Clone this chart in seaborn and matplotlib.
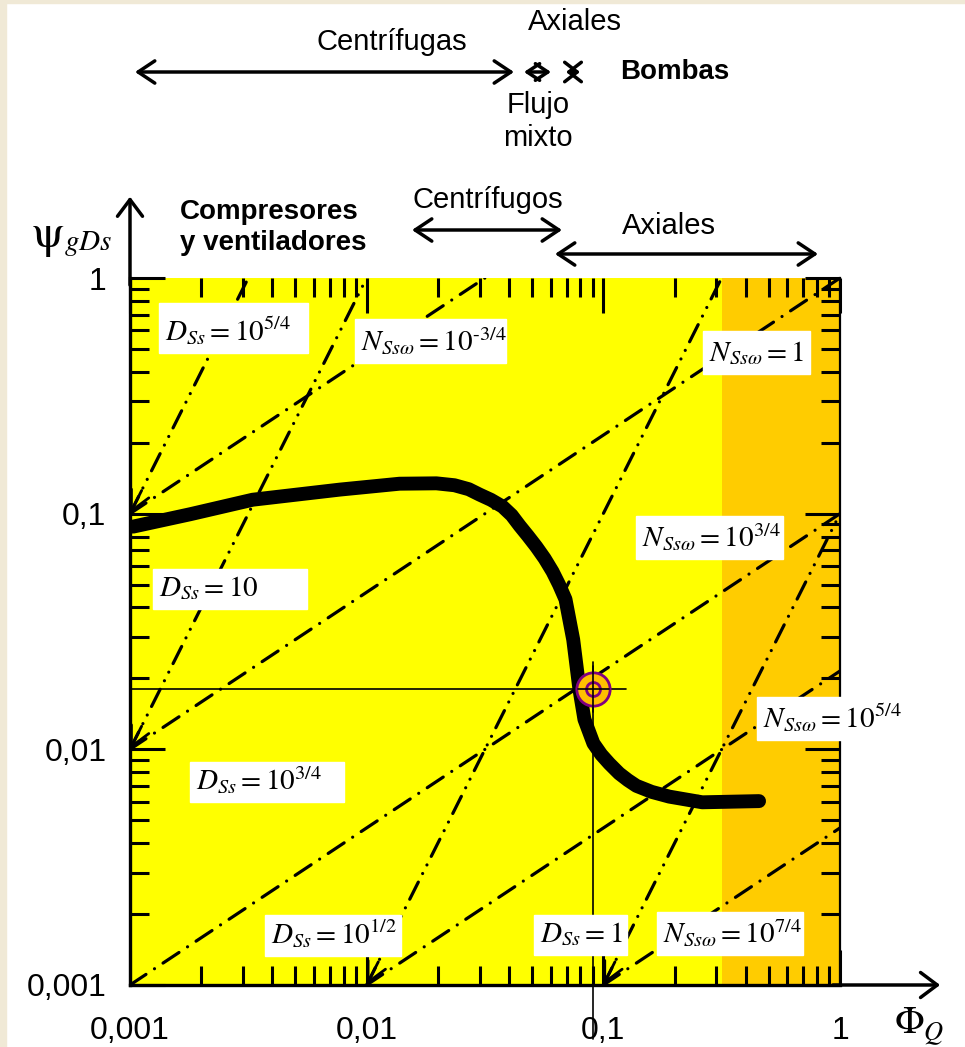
import matplotlib
matplotlib.use('Agg')
import matplotlib.pyplot as plt
import seaborn as sns
import numpy as np
import pandas as pd
from matplotlib.patches import Rectangle, FancyArrowPatch

# ---- values ----
# operating curve (Phi_Q, psi_gDs)
phi_curve = [0.00103, 0.0018, 0.0033, 0.0077, 0.01377, 0.0197, 0.0235, 0.0270, 0.0300, 0.0335, 0.0375, 0.0410,
             0.0443, 0.0480, 0.0521, 0.0565, 0.0610, 0.0650, 0.0692, 0.0746, 0.0793, 0.0832, 0.0908, 0.098,
             0.106, 0.1167, 0.127, 0.138, 0.160, 0.190, 0.262, 0.455]
psi_curve = [0.0881, 0.0995, 0.1146, 0.1265, 0.1340, 0.1345, 0.1320, 0.1270, 0.1205, 0.1145, 0.1072, 0.0985,
             0.0889, 0.0805, 0.0724, 0.0645, 0.0568, 0.0500, 0.0433, 0.0292, 0.0179, 0.0134, 0.0106, 0.0095,
             0.0087, 0.00790, 0.00740, 0.0070, 0.0066, 0.0063, 0.00596, 0.00603]

# lines of constant specific speed N_Ssw (start / end points)
n_start_phi = [0.001, 0.001, 0.001, 0.01, 0.1]
n_start_psi = [0.1, 0.01, 0.001, 0.001, 0.001]
n_end_phi = [0.0316, 1.0, 1.0, 1.0, 1.0]
n_end_psi = [1.0, 1.0, 0.1, 0.0215, 0.00464]

# lines of constant specific diameter D_Ss (start / end points)
d_start_phi = [0.001, 0.001, 0.01, 0.1]
d_start_psi = [0.1, 0.01, 0.001, 0.001]
d_end_phi = [0.00316, 0.01, 0.316, 1.0]
d_end_psi = [1.0, 1.0, 1.0, 0.1]

design_phi = 0.0908
design_psi = 0.018
orange_from = 0.318

ticks = [0.001, 0.01, 0.1, 1]
tick_labels = ['0,001', '0,01', '0,1', '1']

# label text, box in pixels (left, top, right, bottom)
line_labels = [r'$D_{Ss} = 10^{5/4}$', r'$N_{Ss\omega} = 10^{\text{-}3/4}$', r'$N_{Ss\omega} = 1$',
               r'$N_{Ss\omega} = 10^{3/4}$', r'$D_{Ss} = 10$', r'$N_{Ss\omega} = 10^{5/4}$',
               r'$D_{Ss} = 10^{3/4}$', r'$D_{Ss} = 10^{1/2}$', r'$D_{Ss} = 1$', r'$N_{Ss\omega} = 10^{7/4}$']
label_boxes = [(159, 303, 308, 353), (355, 319, 506, 363), (703, 331, 810, 374),
               (636, 516, 783, 559), (153, 569, 307, 609), (757, 697, 915, 740),
               (190, 762, 344, 802), (265, 915, 401, 956), (534, 915, 627, 955),
               (657, 912, 803, 955)]

W, H = 965, 1047


def fx(x):
    return x / W


def fy(y):
    return 1 - y / H


sns.set_theme(style='ticks')
plt.rcParams['font.family'] = ['Liberation Sans', 'DejaVu Sans']
plt.rcParams['mathtext.fontset'] = 'stix'
for k in ['text.color', 'axes.labelcolor', 'xtick.color', 'ytick.color', 'axes.edgecolor']:
    plt.rcParams[k] = 'black'

fig = plt.figure(figsize=(W / 100, H / 100), dpi=100)
fig.patch.set_facecolor('white')
# cream page border
fig.patches.append(Rectangle((0, 0), fx(6), 1, transform=fig.transFigure, color='#F0E9D6', zorder=0))
fig.patches.append(Rectangle((0, fy(3)), 1, fy(0) - fy(3), transform=fig.transFigure, color='#F0E9D6', zorder=0))

ax = fig.add_axes([fx(130), fy(985), fx(710), 707 / H])
ax.set_xscale('log')
ax.set_yscale('log')
ax.set_xlim(0.001, 1)
ax.set_ylim(0.001, 1)
ax.set_facecolor('#FFFF00')
ax.axvspan(orange_from, 1, color='#FFCC00', zorder=0, lw=0)

dashdot = (0, (6, 3.2, 0.01, 3.2))
dashdotdot = (0, (6, 3, 0.01, 3, 0.01, 3))

for i in range(len(n_start_phi)):
    sns.lineplot(x=[n_start_phi[i], n_end_phi[i]], y=[n_start_psi[i], n_end_psi[i]], ax=ax,
                 color='black', lw=2.3, linestyle=dashdot, dash_capstyle='round',
                 sort=False, estimator=None, zorder=2)

for i in range(len(d_start_phi)):
    sns.lineplot(x=[d_start_phi[i], d_end_phi[i]], y=[d_start_psi[i], d_end_psi[i]], ax=ax,
                 color='black', lw=2.3, linestyle=dashdotdot, dash_capstyle='round',
                 sort=False, estimator=None, zorder=2)
    ax.annotate('', xy=(d_start_phi[i], d_start_psi[i]),
                xytext=(d_start_phi[i] * 1.12, d_start_psi[i] * 1.12 ** 2),
                arrowprops=dict(arrowstyle='->,head_length=0.7,head_width=0.35', lw=2,
                                color='black', mutation_scale=20, shrinkA=0, shrinkB=0),
                annotation_clip=False, zorder=3)

curve = pd.DataFrame({'phi': phi_curve, 'psi': psi_curve})
sns.lineplot(data=curve, x='phi', y='psi', ax=ax, color='black', lw=10, sort=False,
             estimator=None, solid_capstyle='round', solid_joinstyle='round', zorder=4)

# label boxes
for txt, (l, t, r, b) in zip(line_labels, label_boxes):
    fig.patches.append(Rectangle((fx(l), fy(b)), fx(r - l), (b - t) / H,
                                 transform=fig.transFigure, color='white', zorder=3))
    fig.text(fx(l + 6), fy(b - 13), txt, fontsize=21, ha='left', va='baseline', zorder=4)

# design point with crosshair
ax.plot([0.001, 0.125], [design_psi, design_psi], color='black', lw=1.2, zorder=5)
ax.plot([design_phi, design_phi], [0.0234, 0.00059], color='black', lw=1.2, zorder=5, clip_on=False)
ax.plot([design_phi], [design_psi], marker='o', ms=24, mfc='#FFC000', mec='#800080', mew=2, zorder=6)
ax.plot([design_phi], [design_psi], marker='o', ms=10, mfc='none', mec='#800080', mew=2, zorder=7)
ax.plot([design_phi * 0.86, design_phi * 1.16], [design_psi, design_psi], color='black', lw=1.2, zorder=8)
ax.plot([design_phi, design_phi], [design_psi * 0.8, design_psi * 1.25], color='black', lw=1.2, zorder=8)

# axes styling
ax.set_xticks(ticks)
ax.set_xticklabels(tick_labels)
ax.set_yticks(ticks)
ax.set_yticklabels(tick_labels)
ax.tick_params(which='both', direction='in', top=True, right=True, color='black', width=2.2)
ax.tick_params(which='major', length=25)
ax.tick_params(which='minor', length=14)
ax.tick_params(axis='x', which='major', pad=22, labelsize=23)
ax.tick_params(axis='y', which='major', pad=17, labelsize=23)
ax.spines['top'].set_visible(False)
ax.spines['left'].set_linewidth(2.4)
ax.spines['bottom'].set_linewidth(2.4)
ax.spines['right'].set_linewidth(1.6)
for s in ax.spines.values():
    s.set_color('black')
ax.set_xlabel('')
ax.set_ylabel('')

arrow_kw = dict(arrowstyle='->,head_length=0.6,head_width=0.45', lw=2.5, color='black',
                mutation_scale=20, shrinkA=0, shrinkB=0)
ax.annotate('', xy=(0, 1.115), xytext=(0, 0.99), xycoords='axes fraction',
            arrowprops=arrow_kw, annotation_clip=False)
ax.annotate('', xy=(1.141, 0), xytext=(0.99, 0), xycoords='axes fraction',
            arrowprops=arrow_kw, annotation_clip=False)

# axis names
fig.text(fx(31), fy(247), 'ψ', family='STIXGeneral', fontsize=33, ha='left', va='baseline')
fig.text(fx(64), fy(250), r'$gDs$', fontsize=21, ha='left', va='baseline')
fig.text(fx(895), fy(1033), 'Φ', family='STIXGeneral', fontsize=28, ha='left', va='baseline')
fig.text(fx(923), fy(1040), r'$Q$', fontsize=19, ha='left', va='baseline')

# machine-type ranges at the top
dbl = dict(arrowstyle='<->,head_length=0.6,head_width=0.4', lw=2.5, color='black',
           mutation_scale=20, shrinkA=0, shrinkB=0)
diamond = dict(arrowstyle='<->,head_length=0.45,head_width=0.3', lw=2.5, color='black',
               mutation_scale=20, shrinkA=0, shrinkB=0)
cross = dict(arrowstyle='<->,head_length=0.45,head_width=0.35', lw=2.5, color='black',
             mutation_scale=20, shrinkA=0, shrinkB=0)


def rng(x0, x1, y, style):
    fig.add_artist(FancyArrowPatch((fx(x0), fy(y)), (fx(x1), fy(y)),
                                   transform=fig.transFigure, **style))


rng(135, 514, 72, dbl)
rng(524, 551, 72, diamond)
rng(566, 580, 72, cross)
rng(412, 562, 230, dbl)
rng(555, 818, 254, dbl)

tk = dict(fontsize=21, va='center')
bk = dict(fontsize=20, va='center', fontweight='bold')
fig.text(fx(575), fy(22), 'Axiales', ha='center', **tk)
fig.text(fx(392), fy(42), 'Centrífugas', ha='center', **tk)
fig.text(fx(620), fy(72), 'Bombas', ha='left', **bk)
fig.text(fx(538), fy(105), 'Flujo', ha='center', **tk)
fig.text(fx(538), fy(138), 'mixto', ha='center', **tk)
fig.text(fx(180), fy(212), 'Compresores', ha='left', **bk)
fig.text(fx(180), fy(243), 'y ventiladores', ha='left', **bk)
fig.text(fx(488), fy(200), 'Centrífugos', ha='center', **tk)
fig.text(fx(669), fy(226), 'Axiales', ha='center', **tk)

fig.savefig('out.png', dpi=100)
